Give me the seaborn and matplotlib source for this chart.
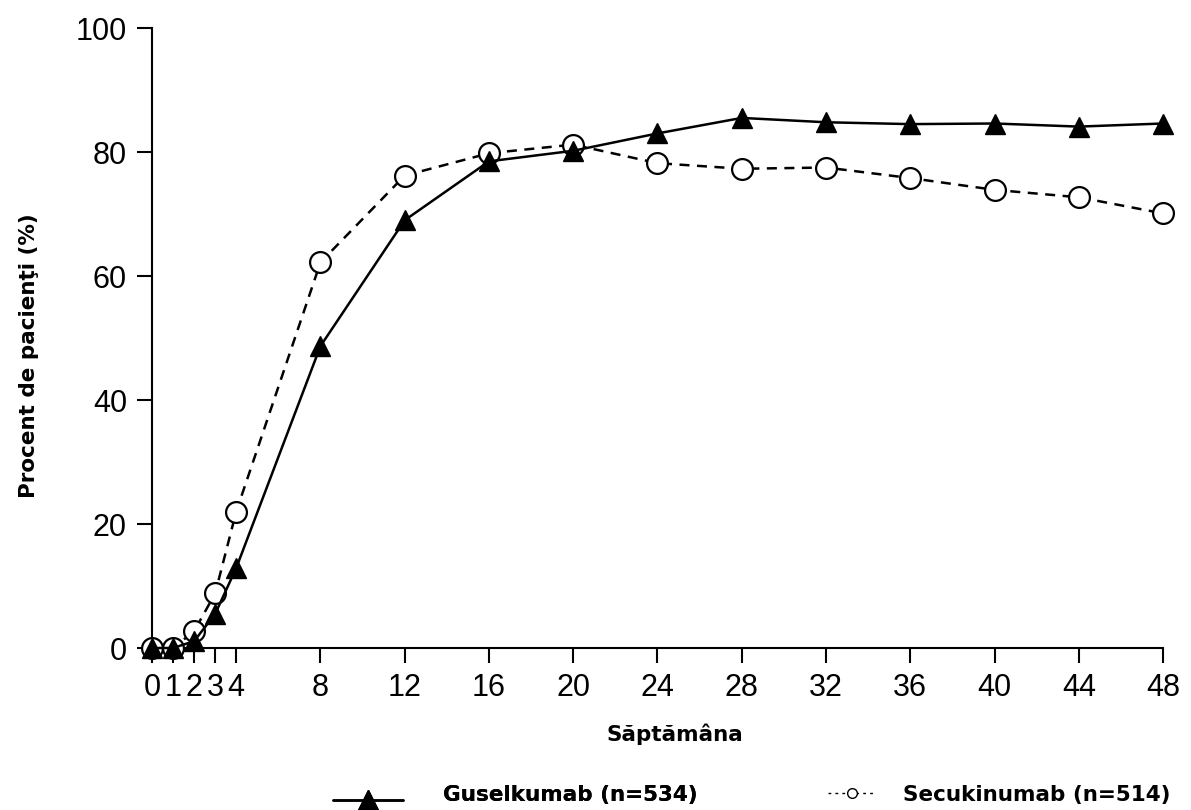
import numpy as np
import pandas as pd
import matplotlib
matplotlib.use("Agg")
import matplotlib.pyplot as plt
import seaborn as sns
from matplotlib.lines import Line2D
from matplotlib.legend_handler import HandlerLine2D

# Response over time (percent of patients) by treatment arm
weeks = [0, 1, 2, 3, 4, 8, 12, 16, 20, 24, 28, 32, 36, 40, 44, 48]
guselkumab = [0, 0, 1.1, 5.5, 12.9, 48.7, 69.0, 78.5, 80.2, 83.0, 85.5, 84.8, 84.5, 84.6, 84.1, 84.6]
secukinumab = [0, 0, 2.7, 8.8, 22.0, 62.2, 76.2, 79.8, 81.2, 78.2, 77.3, 77.5, 75.8, 73.9, 72.7, 70.1]

x_ticks = weeks
y_ticks = [0, 20, 40, 60, 80, 100]
label_gus = "Guselkumab (n=534)"
label_sec = "Secukinumab (n=514)"
x_title = "Săptămâna"
y_title = "Procent de pacienţi (%)"

sns.set_style("ticks")
plt.rcParams["font.family"] = ["Liberation Sans", "DejaVu Sans"]
plt.rcParams["text.color"] = "black"
plt.rcParams["axes.labelcolor"] = "black"

df = pd.DataFrame({"week": weeks, "gus": guselkumab, "sec": secukinumab})

fig = plt.figure(figsize=(11.91, 8.1), dpi=100)
ax = fig.add_axes([0.1276, 0.2, 0.8489, 0.7654])

dash = (0, (4, 3))
sns.lineplot(data=df, x="week", y="sec", ax=ax, color="black", lw=1.8,
             linestyle=dash, marker="o", ms=15, markerfacecolor="white",
             markeredgecolor="black", mew=1.6, clip_on=False, errorbar=None,
             legend=False, zorder=3)
sns.lineplot(data=df, x="week", y="gus", ax=ax, color="black", lw=1.8,
             linestyle="-", marker="^", ms=15, markerfacecolor="black",
             markeredgecolor="black", mew=1, clip_on=False, errorbar=None,
             legend=False, zorder=4)

ax.set_xlim(0, 48)
ax.set_ylim(0, 100)
ax.set_xticks(x_ticks)
ax.set_xticklabels([str(w) for w in x_ticks])
ax.set_yticks(y_ticks)
ax.tick_params(axis="both", direction="out", length=11, width=1.5,
               labelsize=22, colors="black", pad=7)
for side in ("top", "right"):
    ax.spines[side].set_visible(False)
for side in ("left", "bottom"):
    ax.spines[side].set_linewidth(1.5)
    ax.spines[side].set_color("black")

bold = dict(family=["DejaVu Sans"], fontweight="bold", fontsize=15.5, color="black")
ax.set_xlabel(x_title, **bold)
ax.set_ylabel(y_title, **bold)
ax.xaxis.set_label_coords(0.517, -0.121)
ax.yaxis.set_label_coords(-0.112, 0.471)


class ShiftedLineHandler(HandlerLine2D):
    """Line legend key drawn a few points below the text centre."""

    def __init__(self, dy, **kw):
        super().__init__(**kw)
        self.dy = dy

    def create_artists(self, legend, orig_handle, xdescent, ydescent,
                       width, height, fontsize, trans):
        arts = super().create_artists(legend, orig_handle, xdescent, ydescent,
                                      width, height, fontsize, trans)
        for a in arts:
            a.set_ydata(np.asarray(a.get_ydata(), dtype=float) - self.dy)
        return arts


h_gus = Line2D([], [], color="black", lw=1.8, marker="^", ms=15,
               markerfacecolor="black", markeredgecolor="black")
h_sec = Line2D([], [], color="black", lw=1.0, linestyle=(0, (2, 3)),
               marker="o", ms=7, markerfacecolor="white",
               markeredgecolor="black", mew=1.0)

leg_prop = {"family": "DejaVu Sans", "weight": "bold", "size": 15.5}
leg1 = fig.legend(handles=[h_gus], labels=[label_gus], loc="center left",
                  bbox_to_anchor=(333 / 1191, 15 / 810), frameon=False,
                  borderpad=0, borderaxespad=0, handlelength=3.25,
                  handletextpad=1.85, prop=leg_prop, labelcolor="black",
                  handler_map={h_gus: ShiftedLineHandler(dy=4.5, marker_pad=0, numpoints=1)})
leg2 = fig.legend(handles=[h_sec], labels=[label_sec], loc="center left",
                  bbox_to_anchor=(828 / 1191, 15 / 810), frameon=False,
                  borderpad=0, borderaxespad=0, handlelength=2.2,
                  handletextpad=1.3, prop=leg_prop, numpoints=1,
                  labelcolor="black")
fig.add_artist(leg1)

fig.savefig("out.png", dpi=100)
